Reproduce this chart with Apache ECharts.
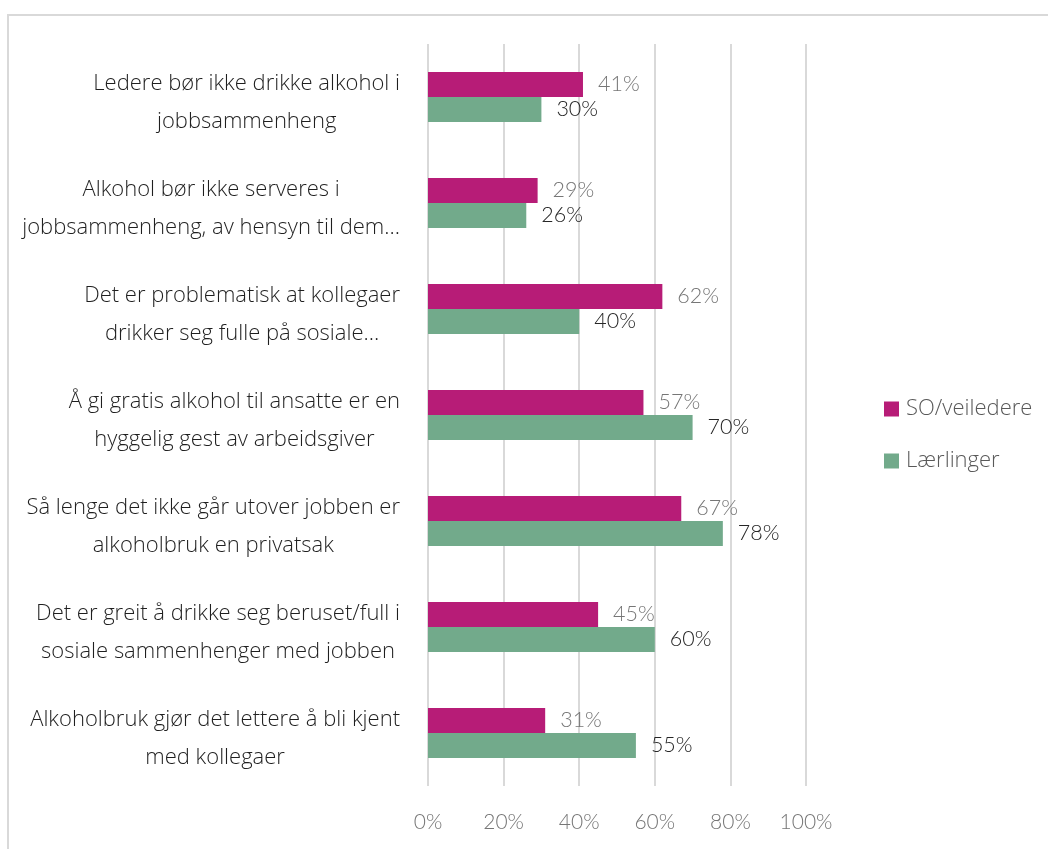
<!DOCTYPE html>
<html><head><meta charset="utf-8">
<script src="https://cdn.jsdelivr.net/npm/echarts@6/dist/echarts.min.js"></script>
<style>html,body{margin:0;padding:0;background:#fff}#c{width:1048px;height:849px}</style>
</head><body><div id="c"></div>
<script>
const categories = [
  ["Ledere bør ikke drikke alkohol i", "jobbsammenheng"],
  ["Alkohol bør ikke serveres i", "jobbsammenheng, av hensyn til dem…"],
  ["Det er problematisk at kollegaer", "drikker seg fulle på sosiale…"],
  ["Å gi gratis alkohol til ansatte er en", "hyggelig gest av arbeidsgiver"],
  ["Så lenge det ikke går utover jobben er", "alkoholbruk en privatsak"],
  ["Det er greit å drikke seg beruset/full i", "sosiale sammenhenger med jobben"],
  ["Alkoholbruk gjør det lettere å bli kjent", "med kollegaer"]
];
const seriesNames = ["SO/veiledere", "Lærlinger"];
const soValues = [41, 29, 62, 57, 67, 45, 31];
const laerValues = [30, 26, 40, 70, 78, 60, 55];
const xTicks = [0, 20, 40, 60, 80, 100];

const chart = echarts.init(document.getElementById('c'));
const numFont = 'Lato, "Open Sans", sans-serif';
chart.setOption({
  animation: false,
  graphic: [{type:'rect', shape:{x:8, y:15, width:1100, height:900}, style:{fill:'none', stroke:'#d9d9d9', lineWidth:2}, silent:true}],
  grid: {left: 428, right: 242, top: 44, bottom: 63},
  legend: {
    orient: 'vertical', left: 879, top: 393, itemWidth: 15, itemHeight: 15, itemGap: 30,
    icon: 'rect',
    textStyle: {fontSize: 22, color: '#595959', fontFamily: '"Open Sans", sans-serif', fontWeight: 300, padding: [0,0,0,2]},
    data: seriesNames
  },
  xAxis: {
    type: 'value', min: 0, max: 100, interval: 20,
    axisLine: {show: false}, axisTick: {show: false},
    splitLine: {lineStyle: {color: '#d9d9d9', width: 2}},
    axisLabel: {fontSize: 21, color: '#767676', fontFamily: numFont, fontWeight: 300, margin: 26, formatter: v => v + '%'}
  },
  yAxis: {
    type: 'category', inverse: true,
    data: categories.map(c => c.join('\n')),
    axisLine: {show: false}, axisTick: {show: false},
    axisLabel: {
      margin: 28, align: 'right', padding: [12, 0, 0, 0],
      formatter: v => v.split('\n').map(s => '{a|' + s + '}').join('\n'),
      rich: {a: {align: 'center', fontSize: 22, lineHeight: 38, color: '#1f1f1f', fontFamily: '"Open Sans", sans-serif', fontWeight: 300}}
    }
  },
  series: [
    {name: seriesNames[0], type: 'bar', data: soValues, barGap: '0%', barCategoryGap: '53%',
     itemStyle: {color: '#b71c77'},
     label: {show: true, position: 'right', distance: 15, formatter: p => p.value + '%', fontSize: 21.5, color: '#767676', fontFamily: numFont, fontWeight: 300}},
    {name: seriesNames[1], type: 'bar', data: laerValues, barGap: '0%', barCategoryGap: '53%',
     itemStyle: {color: '#72aa8b'},
     label: {show: true, position: 'right', distance: 15, formatter: p => p.value + '%', fontSize: 21.5, color: '#262626', fontFamily: numFont, fontWeight: 300}}
  ]
});
</script></body></html>
